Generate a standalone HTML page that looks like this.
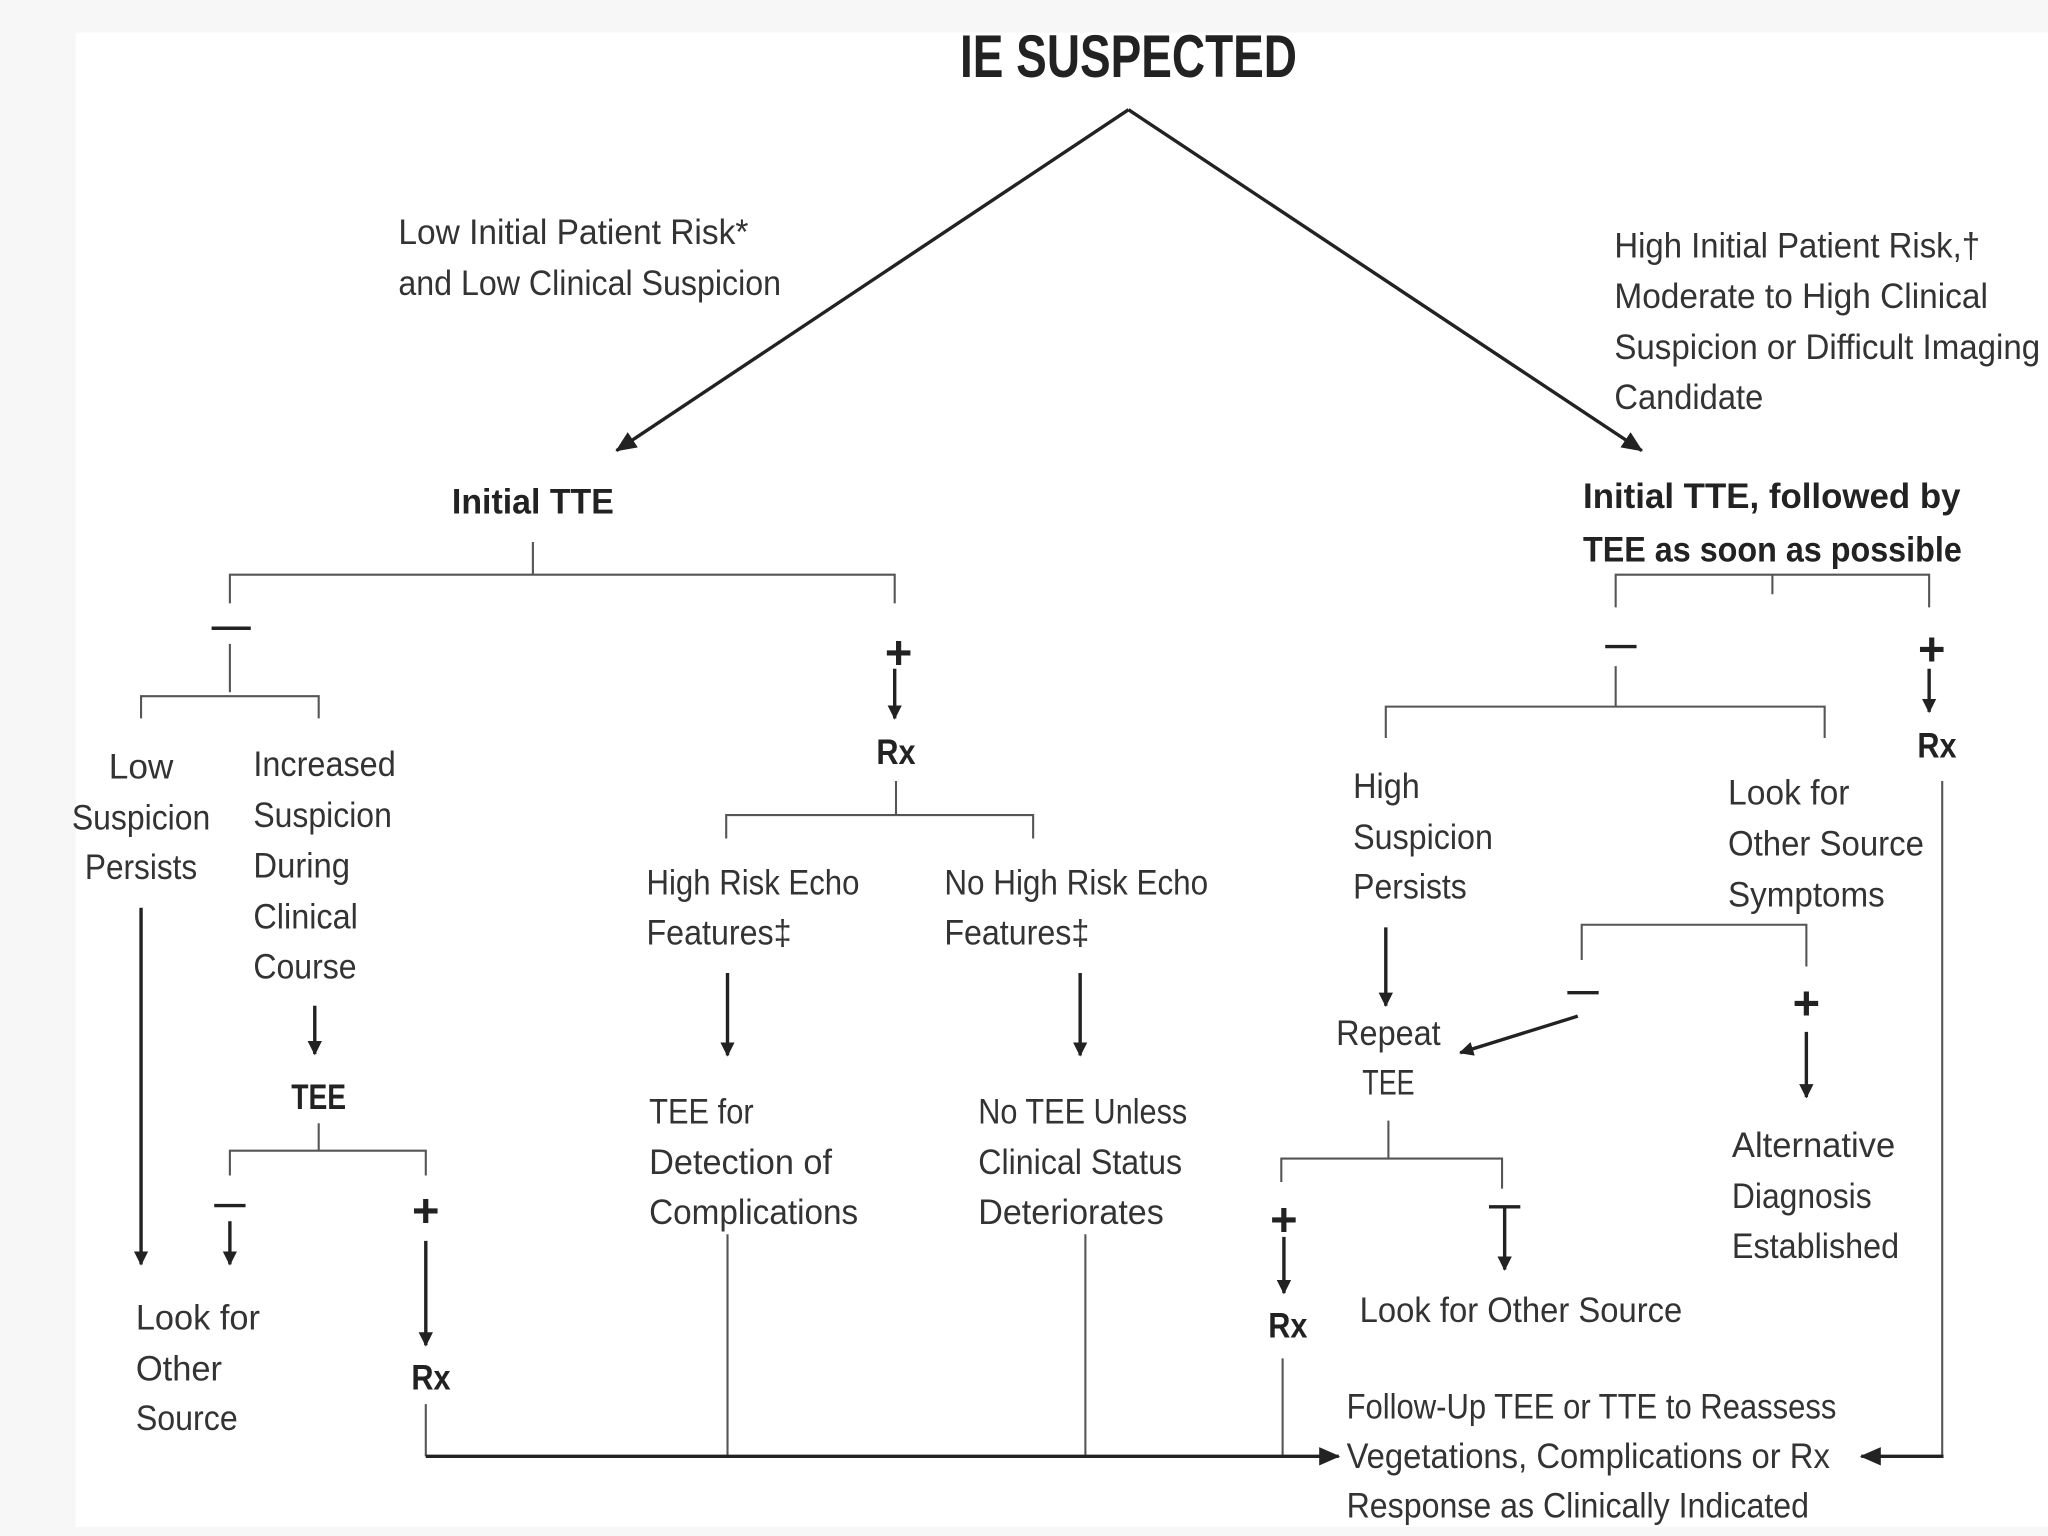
<!DOCTYPE html>
<html><head><meta charset="utf-8"><style>
html,body{margin:0;padding:0;background:#f7f7f7;}
svg{display:block}
text{font-family:"Liberation Sans",sans-serif;fill:#333;font-size:27px}
.b{font-weight:bold;fill:#222}
.p{font-weight:bold;fill:#222;font-size:36px}
.t{stroke:#555;stroke-width:1.6;fill:none}
.k{stroke:#222;stroke-width:2.6;fill:none}
</style></head><body>
<svg width="2048" height="1536" viewBox="0 0 1568 1176" xmlns="http://www.w3.org/2000/svg">
<defs><marker id="a" markerWidth="11" markerHeight="11" refX="10" refY="5.5" orient="auto" markerUnits="userSpaceOnUse"><path d="M0,0 L11,5.5 L0,11 z" fill="#222"/></marker>
<marker id="A" markerWidth="16" markerHeight="14" refX="15" refY="7" orient="auto" markerUnits="userSpaceOnUse"><path d="M0,0 L16,7 L0,14 z" fill="#222"/></marker></defs>
<rect x="0" y="0" width="1568" height="1176" fill="#f7f7f7"/>
<rect x="58" y="25" width="1510" height="1144" fill="#fff"/>

<text class="b" x="864" y="59" text-anchor="middle" style="font-size:46px" textLength="258" lengthAdjust="spacingAndGlyphs">IE SUSPECTED</text>
<line class="k" x1="864" y1="84" x2="472" y2="345" marker-end="url(#A)"/>
<line class="k" x1="864" y1="84" x2="1257" y2="345" marker-end="url(#A)"/>

<text x="305" y="187" textLength="268" lengthAdjust="spacingAndGlyphs">Low Initial Patient Risk*</text>
<text x="305" y="226" textLength="293" lengthAdjust="spacingAndGlyphs">and Low Clinical Suspicion</text>
<text x="1236" y="197" textLength="280" lengthAdjust="spacingAndGlyphs">High Initial Patient Risk,†</text>
<text x="1236" y="236" textLength="286" lengthAdjust="spacingAndGlyphs">Moderate to High Clinical</text>
<text x="1236" y="275" textLength="326" lengthAdjust="spacingAndGlyphs">Suspicion or Difficult Imaging</text>
<text x="1236" y="313" textLength="114" lengthAdjust="spacingAndGlyphs">Candidate</text>

<text class="b" x="346" y="393" textLength="124" lengthAdjust="spacingAndGlyphs">Initial TTE</text>
<text class="b" x="1212" y="389" textLength="289" lengthAdjust="spacingAndGlyphs">Initial TTE, followed by</text>
<text class="b" x="1212" y="430" textLength="290" lengthAdjust="spacingAndGlyphs">TEE as soon as possible</text>

<path class="t" d="M408 415 V440 M176 462 V440 H685 V462"/>
<line class="k" x1="162" y1="481" x2="192" y2="481"/>
<path class="t" d="M176 493 V530 M108 550 V533 H244 V550"/>
<text class="p" x="688" y="512" text-anchor="middle">+</text>
<line class="k" x1="685" y1="512" x2="685" y2="550" marker-end="url(#a)"/>
<text class="b" x="686" y="585" text-anchor="middle" textLength="30" lengthAdjust="spacingAndGlyphs">Rx</text>
<path class="t" d="M686 598 V624 M556 642 V624 H791 V642"/>

<text x="108" y="596" text-anchor="middle">Low</text>
<text x="108" y="635" text-anchor="middle" textLength="106" lengthAdjust="spacingAndGlyphs">Suspicion</text>
<text x="108" y="673" text-anchor="middle" textLength="86" lengthAdjust="spacingAndGlyphs">Persists</text>
<text x="194" y="594" textLength="109" lengthAdjust="spacingAndGlyphs">Increased</text>
<text x="194" y="633" textLength="106" lengthAdjust="spacingAndGlyphs">Suspicion</text>
<text x="194" y="672" textLength="74" lengthAdjust="spacingAndGlyphs">During</text>
<text x="194" y="711" textLength="80" lengthAdjust="spacingAndGlyphs">Clinical</text>
<text x="194" y="749" textLength="79" lengthAdjust="spacingAndGlyphs">Course</text>
<line class="k" x1="108" y1="695" x2="108" y2="968" marker-end="url(#a)"/>
<line class="k" x1="241" y1="770" x2="241" y2="807" marker-end="url(#a)"/>
<text class="b" x="244" y="849" text-anchor="middle" textLength="42" lengthAdjust="spacingAndGlyphs">TEE</text>
<path class="t" d="M244 860 V881 M176 900 V881 H326 V900"/>
<line class="k" x1="164" y1="923" x2="188" y2="923"/>
<line class="k" x1="176" y1="935" x2="176" y2="968" marker-end="url(#a)"/>
<text class="p" x="326" y="939" text-anchor="middle">+</text>
<line class="k" x1="326" y1="950" x2="326" y2="1030" marker-end="url(#a)"/>
<text class="b" x="330" y="1064" text-anchor="middle" textLength="30" lengthAdjust="spacingAndGlyphs">Rx</text>
<text x="104" y="1018" textLength="95" lengthAdjust="spacingAndGlyphs">Look for</text>
<text x="104" y="1057" textLength="66" lengthAdjust="spacingAndGlyphs">Other</text>
<text x="104" y="1095" textLength="78" lengthAdjust="spacingAndGlyphs">Source</text>

<text x="495" y="685" textLength="163" lengthAdjust="spacingAndGlyphs">High Risk Echo</text>
<text x="495" y="723" textLength="111" lengthAdjust="spacingAndGlyphs">Features‡</text>
<text x="723" y="685" textLength="202" lengthAdjust="spacingAndGlyphs">No High Risk Echo</text>
<text x="723" y="723" textLength="111" lengthAdjust="spacingAndGlyphs">Features‡</text>
<line class="k" x1="557" y1="745" x2="557" y2="808" marker-end="url(#a)"/>
<line class="k" x1="827" y1="745" x2="827" y2="808" marker-end="url(#a)"/>
<text x="497" y="860" textLength="80" lengthAdjust="spacingAndGlyphs">TEE for</text>
<text x="497" y="899" textLength="140" lengthAdjust="spacingAndGlyphs">Detection of</text>
<text x="497" y="937" textLength="160" lengthAdjust="spacingAndGlyphs">Complications</text>
<text x="749" y="860" textLength="160" lengthAdjust="spacingAndGlyphs">No TEE Unless</text>
<text x="749" y="899" textLength="156" lengthAdjust="spacingAndGlyphs">Clinical Status</text>
<text x="749" y="937" textLength="142" lengthAdjust="spacingAndGlyphs">Deteriorates</text>
<path class="t" d="M557 945 V1115 M831 945 V1115 M326 1075 V1115 M982 1040 V1115"/>
<line class="k" x1="326" y1="1115" x2="1025" y2="1115" marker-end="url(#A)"/>

<path class="t" d="M1357 440 V455 M1237 465 V440 H1477 V465"/>
<line class="k" x1="1229" y1="495" x2="1253" y2="495"/>
<text class="p" x="1479" y="509" text-anchor="middle">+</text>
<line class="k" x1="1477" y1="512" x2="1477" y2="545" marker-end="url(#a)"/>
<text class="b" x="1483" y="580" text-anchor="middle" textLength="30" lengthAdjust="spacingAndGlyphs">Rx</text>
<path class="t" d="M1237 510 V541 M1061 565 V541 H1397 V565"/>
<text x="1036" y="611" textLength="51" lengthAdjust="spacingAndGlyphs">High</text>
<text x="1036" y="650" textLength="107" lengthAdjust="spacingAndGlyphs">Suspicion</text>
<text x="1036" y="688" textLength="87" lengthAdjust="spacingAndGlyphs">Persists</text>
<text x="1323" y="616" textLength="93" lengthAdjust="spacingAndGlyphs">Look for</text>
<text x="1323" y="655" textLength="150" lengthAdjust="spacingAndGlyphs">Other Source</text>
<text x="1323" y="694" textLength="120" lengthAdjust="spacingAndGlyphs">Symptoms</text>
<line class="k" x1="1061" y1="710" x2="1061" y2="770" marker-end="url(#a)"/>
<text x="1023" y="800" textLength="80" lengthAdjust="spacingAndGlyphs">Repeat</text>
<text x="1063" y="838" text-anchor="middle" textLength="40" lengthAdjust="spacingAndGlyphs">TEE</text>
<path class="t" d="M1211 735 V708 H1383 V740"/>
<line class="k" x1="1200" y1="760" x2="1224" y2="760"/>
<line class="k" x1="1208" y1="778" x2="1118" y2="806" marker-end="url(#a)"/>
<text class="p" x="1383" y="780" text-anchor="middle">+</text>
<line class="k" x1="1383" y1="790" x2="1383" y2="840" marker-end="url(#a)"/>
<text x="1326" y="886" textLength="125" lengthAdjust="spacingAndGlyphs">Alternative</text>
<text x="1326" y="925" textLength="107" lengthAdjust="spacingAndGlyphs">Diagnosis</text>
<text x="1326" y="963" textLength="128" lengthAdjust="spacingAndGlyphs">Established</text>
<path class="t" d="M1063 858 V887 M981 905 V887 H1150 V910"/>
<text class="p" x="983" y="946" text-anchor="middle">+</text>
<line class="k" x1="983" y1="947" x2="983" y2="990" marker-end="url(#a)"/>
<line class="k" x1="1140" y1="924" x2="1164" y2="924"/>
<line class="k" x1="1152" y1="924" x2="1152" y2="972" marker-end="url(#a)"/>
<text class="b" x="986" y="1024" text-anchor="middle" textLength="30" lengthAdjust="spacingAndGlyphs">Rx</text>
<text x="1041" y="1012" textLength="247" lengthAdjust="spacingAndGlyphs">Look for Other Source</text>
<path class="t" d="M1487 598 V1115"/>
<line class="k" x1="1488" y1="1115" x2="1425" y2="1115" marker-end="url(#A)"/>
<text x="1031" y="1086" textLength="375" lengthAdjust="spacingAndGlyphs">Follow-Up TEE or TTE to Reassess</text>
<text x="1031" y="1124" textLength="370" lengthAdjust="spacingAndGlyphs">Vegetations, Complications or Rx</text>
<text x="1031" y="1162" textLength="354" lengthAdjust="spacingAndGlyphs">Response as Clinically Indicated</text>
</svg>
</body></html>
